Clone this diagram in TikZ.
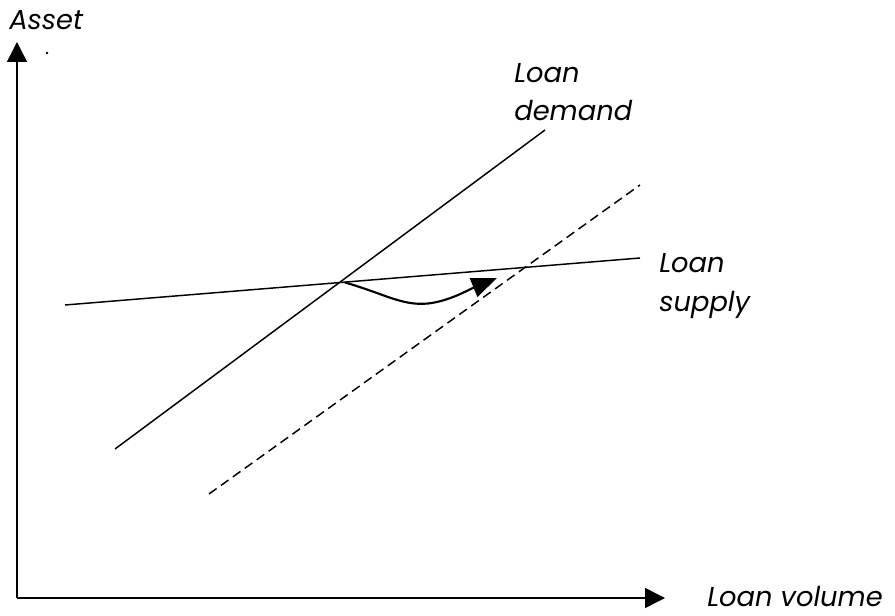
\documentclass[tikz,border=0pt]{standalone}
\usepackage{fontspec}
\setmainfont{Poppins}
\usetikzlibrary{arrows.meta}
\begin{document}
\begin{tikzpicture}[x=0.75pt,y=-0.75pt,
  lbl/.style={font=\itshape\fontsize{20.5}{29}\selectfont, inner sep=0pt, anchor=west, align=left},
  ln/.style={line width=1.1pt},
  bigarrow/.style={-{Triangle[length=19pt,width=15pt]}},
  axarrow/.style={-{Triangle[length=15pt,width=15pt]}}]
\useasboundingbox (0,0) rectangle (895,616);
\coordinate (O) at (17,598);
\coordinate (Ytop) at (17,42);
\coordinate (Xend) at (665,598);
\draw[ln,axarrow] (O) -- (Ytop);
\draw[ln,axarrow] (O) -- (Xend);
\node[lbl] (asset) at (9,20) {Asset};
\node[circle,fill,inner sep=0pt,minimum size=2pt] (dot) at (47,53) {};
\coordinate (d1) at (115,449);
\coordinate (d2) at (545,130);
\draw[ln] (d1) -- (d2);
\coordinate (e1) at (209,494);
\coordinate (e2) at (640,185);
\draw[ln,dashed,dash pattern=on 7pt off 4pt] (e1) -- (e2);
\coordinate (s1) at (65,305);
\coordinate (s2) at (640,258);
\draw[ln] (s1) -- (s2);
\coordinate (X) at (345,282.5);
\coordinate (M) at (428,303.5);
\coordinate (T) at (497,278);
\draw[line width=1.6pt,bigarrow] (X) .. controls (385,294) and (402,306) .. (M) .. controls (450,301) and (470,289) .. (T);
\node[lbl] (ldem) at (514,92) {Loan\\demand};
\node[lbl] (lsup) at (659,286) {Loan\\supply};
\node[lbl] (lvol) at (707,597) {Loan volume};
\end{tikzpicture}
\end{document}
